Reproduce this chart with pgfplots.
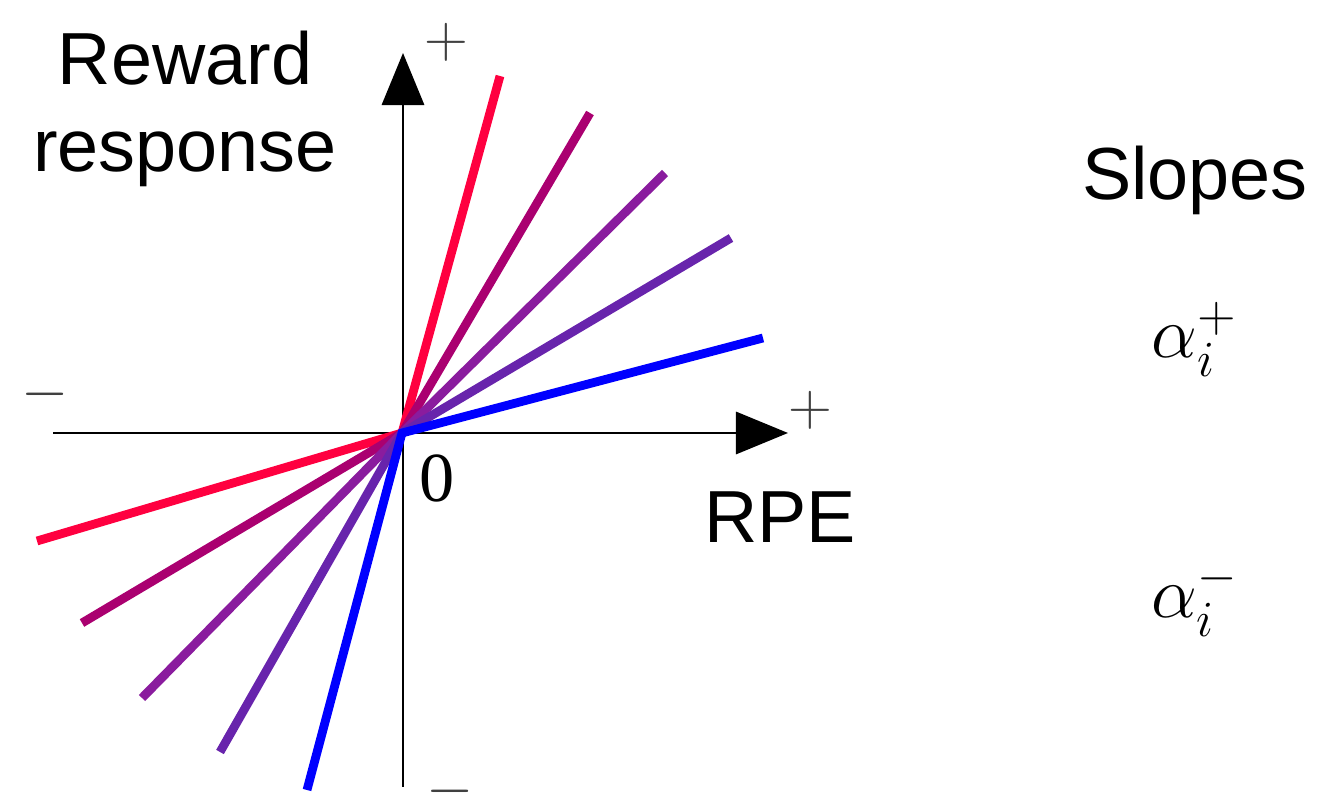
\documentclass[border=0pt]{standalone}
\usepackage{pgfplots}
\pgfplotsset{compat=1.18}
\usepackage{fontspec}
\setmainfont{Liberation Sans}
\newfontfamily\seriffont{Liberation Serif}
\usetikzlibrary{arrows.meta}

\definecolor{s1}{RGB}{255,0,64}
\definecolor{s2}{RGB}{170,0,112}
\definecolor{s3}{RGB}{138,28,158}
\definecolor{s4}{RGB}{104,36,172}
\definecolor{s5}{RGB}{0,0,255}

\begin{document}
\begin{tikzpicture}
\begin{axis}[
  scale only axis,
  width=13.32cm, height=8.08cm,
  xmin=-402, xmax=930, ymin=-375, ymax=433,
  enlargelimits=false,
  axis line style={draw=none}, ticks=none,
  clip=false,
]
% RPE and reward-response axes
\addplot[black, line width=0.75pt, -{Triangle[length=14.8pt,width=12pt]}]
  coordinates {(-349,0) (386,0)};
\addplot[black, line width=0.75pt, -{Triangle[length=14.8pt,width=12pt]}]
  coordinates {(1,-354) (1,380)};

% piecewise-linear responses: negative branch, origin, positive branch
\addplot[s1, line width=2.5pt] coordinates {(-365,-108) (0,0) (98,357)};
\addplot[s2, line width=2.5pt] coordinates {(-320,-190) (0,0) (188,320)};
\addplot[s3, line width=2.5pt] coordinates {(-260,-265) (0,0) (263,260)};
\addplot[s4, line width=2.5pt] coordinates {(-182,-319) (0,0) (329,195)};
\addplot[s5, line width=2.5pt] coordinates {(-95,-357) (0,0) (361,95)};

% labels
\node[anchor=base, font=\fontsize{21}{25}\selectfont] at (axis cs:-217,348) {Reward};
\node[anchor=base, font=\fontsize{21}{25}\selectfont] at (axis cs:-217,261) {response};
\node[anchor=base, font=\fontsize{21}{25}\selectfont] at (axis cs:378,-110) {RPE};
\node[anchor=base, font=\fontsize{21}{25}\selectfont] at (axis cs:793,233) {Slopes};
\node[anchor=base, font=\fontsize{20}{24}\selectfont] at (axis cs:35,-69) {\seriffont 0};
\node[anchor=base, font=\fontsize{20}{24}\selectfont] at (axis cs:793,75) {$\alpha_i^+$};
\node[anchor=base, font=\fontsize{20}{24}\selectfont] at (axis cs:793,-185) {$\alpha_i^-$};

% signs at the ends of the axes
\node[inner sep=0pt, text=black!75, font=\fontsize{16}{18}\selectfont] at (axis cs:44,391) {$+$};
\node[inner sep=0pt, text=black!75, font=\fontsize{16}{18}\selectfont] at (axis cs:408,23) {$+$};
\node[inner sep=0pt, text=black!75, font=\fontsize{16}{18}\selectfont] at (axis cs:-357,39) {$-$};
\node[inner sep=0pt, text=black!75, font=\fontsize{16}{18}\selectfont] at (axis cs:48,-358) {$-$};
\end{axis}
\end{tikzpicture}
\end{document}
